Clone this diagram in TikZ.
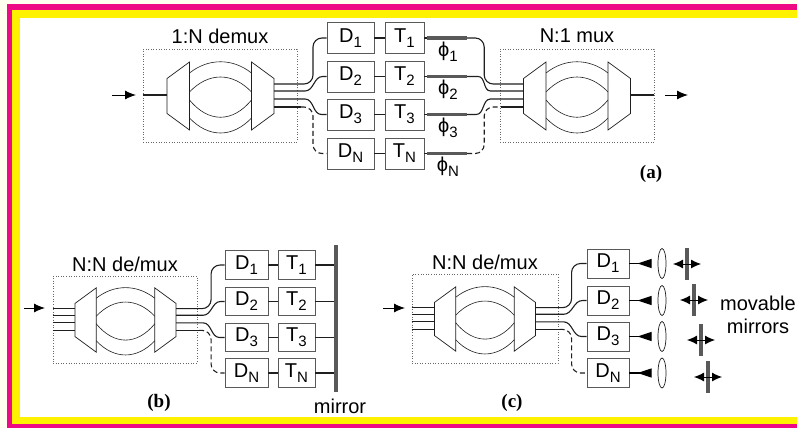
\documentclass[tikz,border=0pt]{standalone}
\usepackage{fontspec}
\setmainfont{Liberation Sans}
\newfontfamily\capfont{Liberation Serif}
\usetikzlibrary{arrows.meta,shapes.geometric}
\newcommand{\subl}[1]{\raisebox{-5pt}{\fontsize{15}{15}\selectfont #1}}
\definecolor{framepink}{HTML}{EE0A84}
\definecolor{frameyellow}{HTML}{FFF200}
\definecolor{frameivory}{HTML}{FFFFF0}
\definecolor{inkgray}{gray}{0.12}
\tikzset{
  trap/.style={draw=inkgray,fill=white,line width=0.7pt},
  splay/.style={draw=inkgray,line width=0.6pt},
  fibre/.style={draw=inkgray,line width=1.1pt},
  fibredash/.style={fibre,dash pattern=on 5pt off 3pt},
  dotbox/.style={draw=black!60,dotted,line width=0.6pt,inner sep=0pt},
  devbox/.style={draw=black!65,fill=white,line width=0.8pt,inner sep=0pt,font=\fontsize{20}{22}\selectfont},
  titlelab/.style={inner sep=0pt,font=\fontsize{20}{22}\selectfont},
  philab/.style={inner sep=0pt,font=\fontsize{20}{22}\selectfont},
  caplab/.style={inner sep=0pt,font=\capfont\bfseries\fontsize{19}{21}\selectfont},
  phasebar/.style={fill=black!65,minimum width=40pt,minimum height=3.5pt,inner sep=0pt},
  mirrorbar/.style={fill=black!65,minimum width=3.5pt,inner sep=0pt},
  lens/.style={draw=inkgray,ellipse,fill=white,minimum width=8pt,minimum height=30pt,inner sep=0pt,line width=0.7pt},
  inarrow/.style={draw=black,line width=1pt,-{Latex[length=11pt,width=9pt]}},
  slide/.style={draw=black,line width=0.9pt,{Latex[length=10pt,width=9pt]}-{Latex[length=10pt,width=9pt]}},
  beamtip/.style={draw=black,line width=1.1pt,-{Triangle[reversed,length=14pt,width=9pt]},shorten >=6pt},
  muxcore/.pic={
    \draw[trap] (-53.5,-17.5) -- (-31,-34) -- (-31,34) -- (-53.5,17.5) -- cycle;
    \draw[trap] (31,-34) -- (53.5,-17.5) -- (53.5,17.5) -- (31,34) -- cycle;
    \draw[splay] (-31,-23) .. controls (-12,-38) and (12,-38) .. (31,-23);
    \draw[splay] (-31,-4) .. controls (-12,-24) and (12,-24) .. (31,-4);
    \draw[splay] (-31,4) .. controls (-12,27) and (12,27) .. (31,4);
    \draw[splay] (-31,22) .. controls (-12,42) and (12,42) .. (31,22);
    \coordinate (-l) at (-53.5,-1);
    \coordinate (-r) at (53.5,-1);
    \foreach \n/\v in {1/-12,2/-5,3/3,4/11} {
      \coordinate (-i\n) at (-53.5,\v);
      \coordinate (-o\n) at (53.5,\v);
    }
  }
}
\begin{document}
\begin{tikzpicture}[x=1pt,y=-1pt]
  \useasboundingbox (0,0) rectangle (797,428);
  \fill[frameivory] (0,0) rectangle (797,428);
  \fill[framepink] (7,4) rectangle (797,428);
  \fill[frameyellow] (12,10) rectangle (797,424);
  \fill[white] (20,18) rectangle (797,417);

  \node[dotbox,minimum width=154pt,minimum height=93pt] (abox) at (220,95.5) {};
  \node[dotbox,minimum width=154pt,minimum height=93pt] (mbox) at (577,95.5) {};
  \node[dotbox,minimum width=144pt,minimum height=87pt] (bbox) at (125,319.5) {};
  \node[dotbox,minimum width=146pt,minimum height=89pt] (cbox) at (485,318.5) {};

  \pic (a) at (220.5,96) {muxcore};
  \pic (m) at (577,96) {muxcore};
  \pic[scale=0.945] (b) at (125.5,320) {muxcore};
  \pic[scale=0.945] (c) at (485,319) {muxcore};

  \node[titlelab] (atitle) at (220,36) {1:N demux};
  \node[titlelab] (mtitle) at (577,36) {N:1 mux};
  \node[titlelab] (btitle) at (125,264) {N:N de/mux};
  \node[titlelab] (ctitle) at (485,262) {N:N de/mux};
  \node[caplab] (acap) at (651,174) {(a)};
  \node[caplab] (bcap) at (159,403) {(b)};
  \node[caplab] (ccap) at (512,403) {(c)};

  \foreach \r/\y/\l in {1/38/1,2/76.5/2,3/114.5/3,4/153.5/N} {
    \node[devbox,minimum width=47pt,minimum height=31pt] (Da\r) at (350.5,\y) {D\subl{\l}};
    \node[devbox,minimum width=39pt,minimum height=31pt] (Ta\r) at (404.5,\y) {T\subl{\l}};
    \node[phasebar] (Pa\r) at (447,\y) {};
    \draw[fibre] (Da\r) -- (Ta\r);
  }
  \foreach \r/\y in {1/52,2/90,3/128,4/167} {
    \pgfmathsetmacro{\lab}{\r==4 ? "N" : int(\r)}
    \node[philab] (phi\r) at (448,\y) {ϕ\subl{\lab}};
  }
  \foreach \r in {1,2,3} {
    \draw[fibre] (Ta\r) -- (Pa\r);
  }
  \draw[fibredash] (Ta4) -- (Pa4);

  \foreach \r/\y/\l in {1/265/1,2/301.5/2,3/337.5/3,4/373/N} {
    \node[devbox,minimum width=43pt,minimum height=28.5pt] (Db\r) at (246.5,\y) {D\subl{\l}};
    \node[devbox,minimum width=37pt,minimum height=28.5pt] (Tb\r) at (296.5,\y) {T\subl{\l}};
    \draw[fibre] (Db\r) -- (Tb\r);
  }
  \node[mirrorbar,minimum height=147pt] (mirror) at (336,318.5) {};
  \node[titlelab] (mirrorlab) at (340,406) {mirror};
  \foreach \r in {1,2,3,4} {
    \draw[fibre] (Tb\r) -- (Tb\r -| mirror.west);
  }

  \foreach \r/\y/\l/\mx/\my in {1/263.5/1/687/264,2/300.5/2/694/300,3/336.5/3/701/340,4/373/N/708/377} {
    \node[devbox,minimum width=42pt,minimum height=29pt] (Dc\r) at (608,\y) {D\subl{\l}};
    \node[lens] (Lc\r) at (662,\y) {};
    \node[mirrorbar,minimum height=32pt] (Mc\r) at (\mx,\my) {};
    \draw[beamtip] (Dc\r) -- (Lc\r);
    \draw[slide] ([xshift=-14pt]Mc\r.center) -- ([xshift=14pt]Mc\r.center);
  }
  \node[titlelab] (movelab) at (758,303) {movable};
  \node[titlelab] (mirrlab) at (758,326) {mirrors};

  \foreach \p/\d in {a/39,b/35,c/36} {
    \draw[fibre,rounded corners=9pt] (\p-o1) -- ++(\d,0) |- (D\p1.west);
    \draw[fibre] (\p-o2) -- ++(\d-8,0) to[out=0,in=180] ([xshift=-4pt]D\p2.west) -- (D\p2.west);
    \draw[fibre] (\p-o3) -- ++(\d-8,0) to[out=0,in=180] ([xshift=-5pt]D\p3.west) -- (D\p3.west);
    \draw[fibre] (\p-o4) -- ++(\d-12,0) coordinate (\p-s);
    \draw[fibredash,rounded corners=9pt] (\p-s) -- ++(12,0) |- (D\p4.west);
  }

  \draw[fibre] (a-l -| abox.west) -- (a-l);
  \draw[fibre] (m-r) -- (m-r -| mbox.east);
  \foreach \n in {1,2,3,4} {
    \draw[fibre] (b-i\n -| bbox.west) -- (b-i\n);
    \draw[fibre] (c-i\n -| cbox.west) -- (c-i\n);
  }

  \draw[fibre,rounded corners=9pt] (Pa1.east) -- ++(17,0) |- (m-i1);
  \draw[fibre] (Pa2.east) -- ++(11,0) to[out=0,in=180] ([xshift=-33pt]m-i2) -- (m-i2);
  \draw[fibre] (Pa3.east) -- ++(9,0) to[out=0,in=180] ([xshift=-33pt]m-i3) -- (m-i3);
  \draw[fibredash,rounded corners=9pt] (Pa4.east) -- ++(17,0) |- ([xshift=-23pt]m-i4) coordinate (m-s);
  \draw[fibre] (m-s) -- (m-i4);

  \coordinate (ain) at (112,95);
  \coordinate (aend) at (136,95);
  \coordinate (mout) at (665,95);
  \coordinate (mend) at (688,95);
  \coordinate (bin) at (24,308);
  \coordinate (bend) at (45,308);
  \coordinate (cin) at (383,308);
  \coordinate (cend) at (405,308);
  \draw[inarrow] (ain) -- (aend);
  \draw[inarrow] (mout) -- (mend);
  \draw[inarrow] (bin) -- (bend);
  \draw[inarrow] (cin) -- (cend);
\end{tikzpicture}
\end{document}
